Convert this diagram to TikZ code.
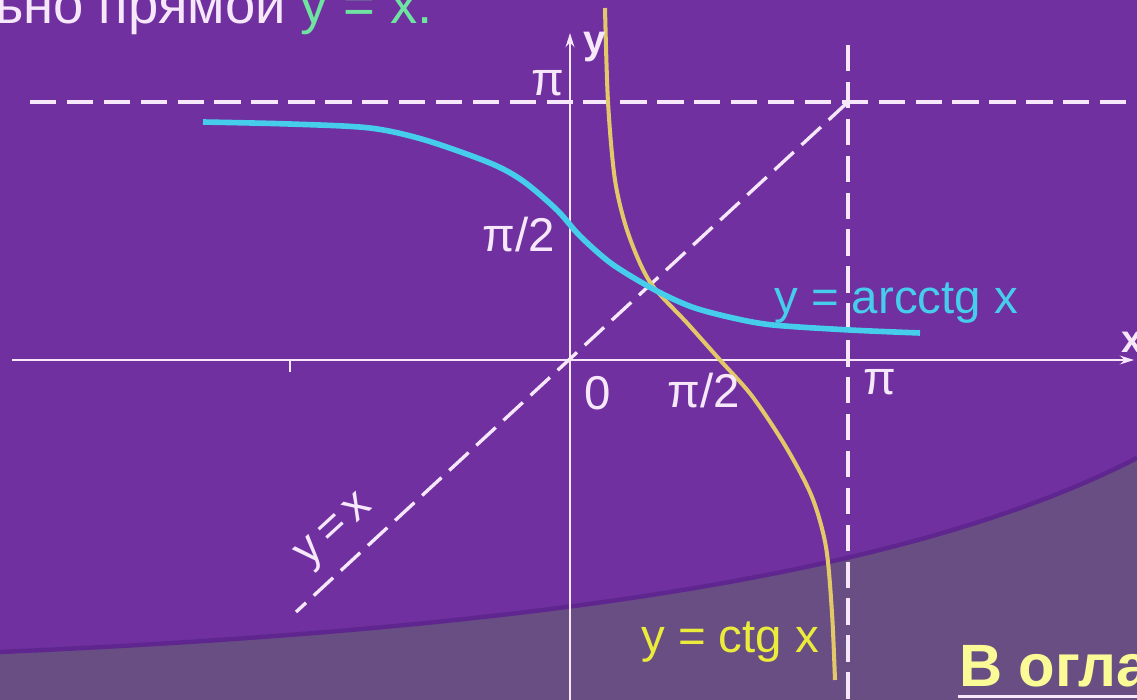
\documentclass[tikz,border=0pt]{standalone}
\usepackage{fontspec}
\setmainfont{Liberation Sans}
\usepackage{tikz}
\usetikzlibrary{arrows.meta}
\definecolor{bgpurple}{RGB}{112,48,160}
\definecolor{lowgrey}{RGB}{104,78,130}
\definecolor{edgepurple}{RGB}{94,38,142}
\definecolor{arccyan}{RGB}{70,205,235}
\definecolor{ctgyellow}{RGB}{226,200,105}
\definecolor{ctgtext}{RGB}{235,235,60}
\definecolor{titlegreen}{RGB}{110,228,160}
\definecolor{axiswhite}{RGB}{246,232,250}
\definecolor{linkyellow}{RGB}{250,250,150}

\begin{document}
\begin{tikzpicture}[
  x=0.02cm, y=-0.02cm,
  line width=1.3pt,
  every node/.style={font=\fontsize{27}{32}\selectfont,text=axiswhite,inner sep=0pt},
  axisline/.style={draw=axiswhite,line width=1.3pt,-{Stealth[length=8pt,width=5pt]}},
  guide/.style={draw=axiswhite,line width=1.9pt,dash pattern=on 15pt off 6pt}
]
\useasboundingbox (0,0) rectangle (1137,700);
\clip (0,0) rectangle (1137,700);

% фон
\fill[bgpurple] (0,0) rectangle (1137,700);
\fill[lowgrey]
  (0,652) .. controls (500,630) and (900,580) .. (1137,458)
  -- (1137,700) -- (0,700) -- cycle;
\draw[edgepurple,line width=2.5pt]
  (0,652) .. controls (500,630) and (900,580) .. (1137,458);

% заголовок
\node[anchor=base west,font=\fontsize{31}{36}\selectfont] (title) at (-6,23)
  {ьно прямой \textcolor{titlegreen}{y = x.}};

% оси
\coordinate (xstart) at (12,360);
\coordinate (xend) at (1134,360);
\coordinate (ystart) at (570,700);
\coordinate (yend) at (570,33);
\draw[axisline] (xstart) -- (xend);
\draw[axisline] (ystart) -- (yend);
\draw[axiswhite] (290,360) -- (290,372);

% пунктир
\coordinate (pitop) at (848,102);
\coordinate (hleft) at (30,102);
\coordinate (hright) at (1137,102);
\coordinate (vtop) at (848,45);
\coordinate (vbottom) at (848,700);
\coordinate (diagend) at (296,612);
\draw[guide] (hleft) -- (hright);
\draw[guide] (vtop) -- (vbottom);
\draw[guide] (pitop) -- (diagend);

% графики
\draw[ctgyellow,line width=2.3pt] plot[smooth] coordinates {
  (605,8) (608,102) (615,180) (628,233) (650,282) (688,324)
  (720,360) (752,396) (786,447) (812,497) (826,547) (832,613) (835,680)};
\draw[arccyan,line width=3.2pt] plot[smooth] coordinates {
  (203,122) (290,124) (370,128) (425,140) (490,163) (523,181)
  (557,210) (580,236) (612,264) (655,290) (692,307) (733,318)
  (773,325) (850,330) (920,333)};

% подписи
\node[anchor=base] (ypi) at (548,95) {π};
\node[anchor=base] (yhalf) at (519,251) {π/2};
\node[anchor=base] (zero) at (598,409) {0};
\node[anchor=base] (xhalf) at (704,407) {π/2};
\node[anchor=base] (xpi) at (880,394) {π};
\node[anchor=base west,font=\fontsize{23}{26}\selectfont\bfseries] (ylab) at (582,53) {y};
\node[anchor=base west,font=\fontsize{22}{24}\selectfont\bfseries] (xlab) at (1120,352) {x};
\node[anchor=base west,text=arccyan] (arclab) at (773,313) {y = arcctg x};
\node[anchor=base west,text=ctgtext] (ctglab) at (640,652) {y = ctg x};
\node[rotate=42.6,font=\fontsize{26}{28}\selectfont] (diaglab) at (336,532) {y\,=\,x};

% ссылка
\node[anchor=base west,text=linkyellow,font=\fontsize{34}{40}\selectfont\bfseries]
  (link) at (958,686) {В оглавление};
\draw[axiswhite,line width=1.5pt] ([yshift=-6pt]link.base west) -- ([yshift=-6pt]link.base east);
\end{tikzpicture}
\end{document}
